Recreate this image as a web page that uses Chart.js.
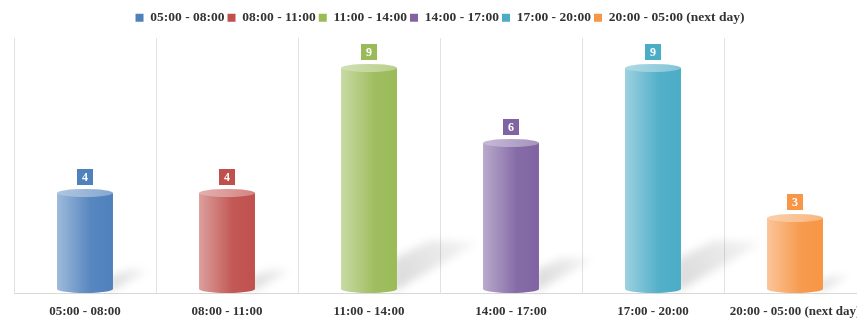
<!DOCTYPE html>
<html>
<head>
<meta charset="utf-8">
<script src="https://cdn.jsdelivr.net/npm/chart.js@4/dist/chart.umd.min.js"></script>
<style>
html,body{margin:0;padding:0;background:#fff;overflow:hidden;}
#wrap{width:880px;height:320px;}
</style>
</head>
<body>
<div id="wrap"><canvas id="c" width="880" height="320"></canvas></div>
<script>
const categories = ['05:00 - 08:00','08:00 - 11:00','11:00 - 14:00','14:00 - 17:00','17:00 - 20:00','20:00 - 05:00 (next day)'];
const values = [4, 4, 9, 6, 9, 3];
const colors = ['#4F81BD','#C0504D','#9BBB59','#8064A2','#4BACC6','#F79646'];

function hexToRgb(h){h=h.replace('#','');return [parseInt(h.substr(0,2),16),parseInt(h.substr(2,2),16),parseInt(h.substr(4,2),16)];}
function mix(hex, t, target){const c=hexToRgb(hex);const tg=target||[255,255,255];return 'rgb('+c.map((v,i)=>Math.round(v+(tg[i]-v)*t)).join(',')+')';}

const legendHeight = {
  id:'legendHeight',
  beforeInit(chart){
    const f = chart.legend.fit;
    chart.legend.fit = function(){ f.call(this); this.height = 30; };
  }
};

const cylinders = {
  id:'cylinders',
  afterDatasetsDraw(chart){
    const ctx = chart.ctx;
    const meta = chart.getDatasetMeta(0);
    const ry = 4;
    meta.data.forEach((el)=>{
      const w = el.width, xr = el.x + w/2, b = el.base, h = b - el.y;
      ctx.save();
      ctx.filter = 'blur(4px)';
      const g = ctx.createLinearGradient(xr, b, xr + 0.36*h, b - 0.225*h);
      g.addColorStop(0,'rgba(0,0,0,0.15)');
      g.addColorStop(1,'rgba(0,0,0,0.04)');
      ctx.fillStyle = g;
      ctx.beginPath();
      ctx.moveTo(xr-4, b-1);
      ctx.lineTo(xr-4, b-0.15*h);
      ctx.lineTo(xr+0.15*h, b-0.235*h);
      ctx.lineTo(xr+0.36*h, b-0.225*h);
      ctx.closePath();
      ctx.fill();
      ctx.restore();
    });
    meta.data.forEach((el,i)=>{
      const col = colors[i];
      const w = el.width, xl = el.x - w/2, xr = el.x + w/2, b = el.base - ry, top = el.y;
      ctx.save();
      const g = ctx.createLinearGradient(xl,0,xr,0);
      g.addColorStop(0, mix(col,0.45));
      g.addColorStop(0.6, mix(col,0.05));
      g.addColorStop(1, col);
      ctx.fillStyle = g;
      ctx.beginPath();
      ctx.moveTo(xl, top);
      ctx.lineTo(xl, b);
      ctx.ellipse(el.x, b, w/2, ry, 0, Math.PI, 0, true);
      ctx.lineTo(xr, top);
      ctx.closePath();
      ctx.fill();
      const g2 = ctx.createLinearGradient(xl,0,xr,0);
      g2.addColorStop(0, mix(col,0.55));
      g2.addColorStop(1, mix(col,0.3));
      ctx.fillStyle = g2;
      ctx.beginPath();
      ctx.ellipse(el.x, top, w/2, ry, 0, 0, Math.PI*2);
      ctx.fill();
      const bs = 16;
      const by = top - ry - 4 - bs;
      ctx.fillStyle = col;
      ctx.fillRect(Math.round(el.x - bs/2), Math.round(by), bs, bs);
      ctx.fillStyle = '#fff';
      ctx.font = 'bold 12px "Liberation Serif"';
      ctx.textAlign = 'center';
      ctx.textBaseline = 'middle';
      ctx.fillText(String(values[i]), el.x, by + bs/2 + 1);
      ctx.restore();
    });
  }
};

new Chart(document.getElementById('c'), {
  type:'bar',
  data:{
    labels: categories,
    datasets:[{
      data: values,
      backgroundColor:'rgba(0,0,0,0)',
      borderWidth:0,
      categoryPercentage:1,
      barPercentage:0.394
    }]
  },
  options:{
    responsive:false,
    animation:false,
    layout:{padding:{left:14,right:14,top:8,bottom:2}},
    plugins:{
      tooltip:{enabled:false},
      legend:{
        display:true,
        position:'top',
        labels:{
          boxWidth:8, boxHeight:8, padding:3,
          color:'#333',
          font:{family:'"Liberation Serif"', size:13.5, weight:'bold'},
          generateLabels(){
            return categories.map((c,i)=>({text:c, fillStyle:colors[i], strokeStyle:colors[i], lineWidth:0, hidden:false, index:i, fontColor:'#333'}));
          }
        }
      }
    },
    scales:{
      x:{
        offset:true,
        grid:{display:true, offset:true, color:'#e2e2e2', drawTicks:false},
        border:{display:true, color:'#d9d9d9'},
        ticks:{padding:11, color:'#333', font:{family:'"Liberation Serif"', size:13, weight:'bold'}, autoSkip:false, maxRotation:0},
        afterFit(scale){ scale.height = 25; }
      },
      y:{
        display:false,
        min:0, max:10.2
      }
    }
  },
  plugins:[legendHeight, cylinders]
});
</script>
</body>
</html>
